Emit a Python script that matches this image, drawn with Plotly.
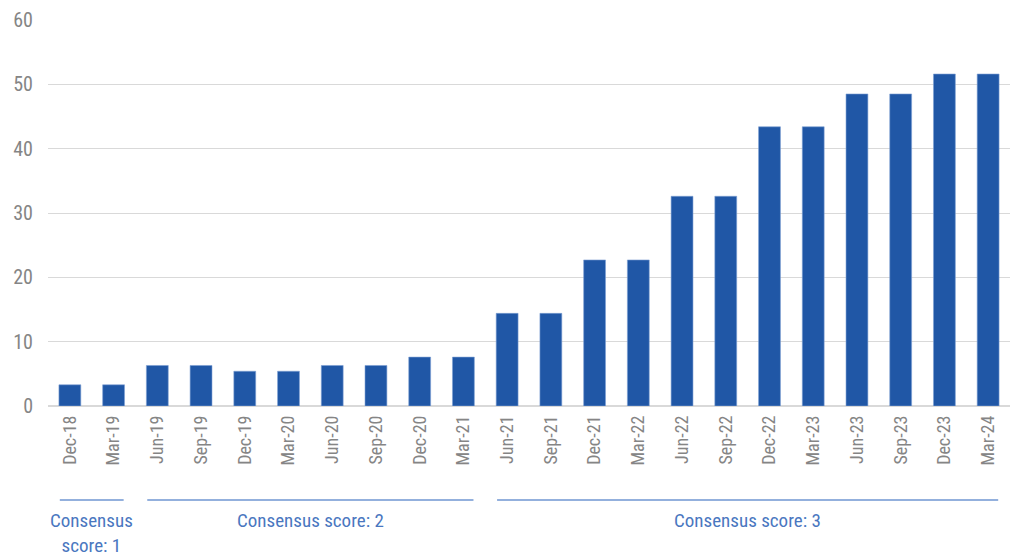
import plotly.graph_objects as go

categories = ["Dec-18", "Mar-19", "Jun-19", "Sep-19", "Dec-19", "Mar-20", "Jun-20", "Sep-20",
              "Dec-20", "Mar-21", "Jun-21", "Sep-21", "Dec-21", "Mar-22", "Jun-22", "Sep-22",
              "Dec-22", "Mar-23", "Jun-23", "Sep-23", "Dec-23", "Mar-24"]
values = [3.3, 3.3, 6.3, 6.3, 5.4, 5.4, 6.3, 6.3, 7.6, 7.6, 14.4, 14.4, 22.7, 22.7,
          32.6, 32.6, 43.4, 43.4, 48.5, 48.5, 51.6, 51.6]

# consensus groups: (label, first index, last index)
groups = [("Consensus<br>score: 1", 0, 1), ("Consensus score: 2", 2, 9), ("Consensus score: 3", 10, 21)]

FONT = "Liberation Sans Narrow, Roboto Condensed, DejaVu Sans Condensed, Arial Narrow, sans-serif"
BAR = "#2057a6"
ANN = "#4a77bf"
LINE = "#6f96d2"

fig = go.Figure()
fig.add_trace(go.Bar(
    x=list(range(len(categories))), y=values,
    marker=dict(color=BAR, line=dict(color="#7d9fd3", width=0.6)),
    hoverinfo="skip",
))

for label, a, b in groups:
    fig.add_shape(type="line", xref="x", yref="paper",
                  x0=a - 0.23, x1=b + 0.23, y0=-0.2435, y1=-0.2435,
                  line=dict(color=LINE, width=1.5))
    fig.add_annotation(x=(a + b) / 2, xref="x", y=-0.262, yref="paper",
                       text=label, showarrow=False, yanchor="top", xanchor="center",
                       font=dict(family=FONT, size=19, color=ANN), align="center")

fig.update_layout(
    width=1016, height=559,
    margin=dict(l=48, r=6, t=20, b=153),
    paper_bgcolor="white", plot_bgcolor="white",
    bargap=0.5, showlegend=False,
    font=dict(family=FONT, color="#7f7f7f"),
)
fig.update_xaxes(
    tickmode="array", tickvals=list(range(len(categories))), ticktext=categories,
    tickangle=-90, tickfont=dict(family=FONT, size=18, color="#858585"),
    range=[-0.5, len(categories) - 0.5], showgrid=False, zeroline=False,
    showline=False, ticks="", ticklabelstandoff=5,
)
fig.update_yaxes(
    range=[0, 60], tickvals=[0, 10, 20, 30, 40, 50, 60],
    tickfont=dict(family=FONT, size=20, color="#858585"),
    showgrid=True, gridcolor="#d9d9d9", gridwidth=1.2,
    zeroline=True, zerolinecolor="#d9d9d9", zerolinewidth=1.5,
    showline=False, ticks="", ticklabelstandoff=14,
)

fig.write_html("out.html")
